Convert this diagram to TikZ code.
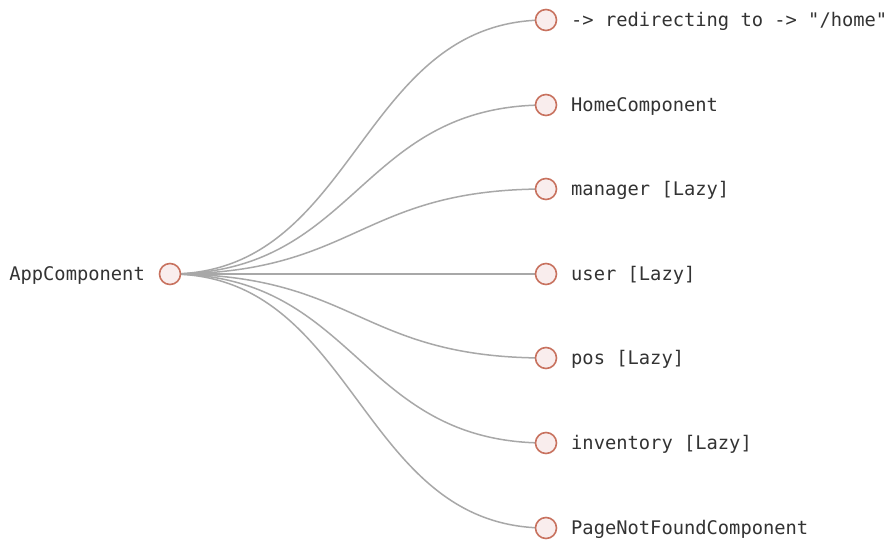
\documentclass[tikz,border=0pt]{standalone}
\usepackage{fontspec}
\setmonofont{DejaVu Sans Mono}
\begin{document}
\begin{tikzpicture}[x=1bp,y=-1bp,
  treenode/.style={circle,draw=nodestroke,fill=nodefill,line width=1.6bp,minimum size=21bp,inner sep=0pt},
  lbl/.style={font=\ttfamily\fontsize{18.75bp}{20bp}\selectfont,text=black!80,inner sep=0pt},
  link/.style={draw=linkgray,line width=1.5bp}]
\definecolor{nodestroke}{HTML}{C8725F}
\definecolor{nodefill}{HTML}{F9EDED}
\definecolor{linkgray}{HTML}{A8A8A8}
\path[fill=white] (0,0) rectangle (893,544);
\useasboundingbox (0,0) rectangle (893,544);
\coordinate (r) at (170,274);
\foreach \n/\y in {c1/20,c2/105,c3/189,c4/274,c5/358,c6/443,c7/528}{
  \coordinate (\n) at (546,\y);
  \draw[link] (r) .. controls (358,274) and (358,\y) .. (\n);
}
\node[treenode] (root) at (r) {};
\node[lbl,anchor=east] (rootl) at ([xshift=-25bp,yshift=-1bp]root.center) {AppComponent};
\node[treenode] (n1) at (c1) {};
\node[treenode] (n2) at (c2) {};
\node[treenode] (n3) at (c3) {};
\node[treenode] (n4) at (c4) {};
\node[treenode] (n5) at (c5) {};
\node[treenode] (n6) at (c6) {};
\node[treenode] (n7) at (c7) {};
\node[lbl,anchor=west] (l1) at ([xshift=25bp,yshift=-1bp]n1.center) {-> redirecting to -> "/home"};
\node[lbl,anchor=west] (l2) at ([xshift=25bp,yshift=-1bp]n2.center) {HomeComponent};
\node[lbl,anchor=west] (l3) at ([xshift=25bp,yshift=-1bp]n3.center) {manager [Lazy]};
\node[lbl,anchor=west] (l4) at ([xshift=25bp,yshift=-1bp]n4.center) {user [Lazy]};
\node[lbl,anchor=west] (l5) at ([xshift=25bp,yshift=-1bp]n5.center) {pos [Lazy]};
\node[lbl,anchor=west] (l6) at ([xshift=25bp,yshift=-1bp]n6.center) {inventory [Lazy]};
\node[lbl,anchor=west] (l7) at ([xshift=25bp,yshift=-1bp]n7.center) {PageNotFoundComponent};
\end{tikzpicture}
\end{document}
